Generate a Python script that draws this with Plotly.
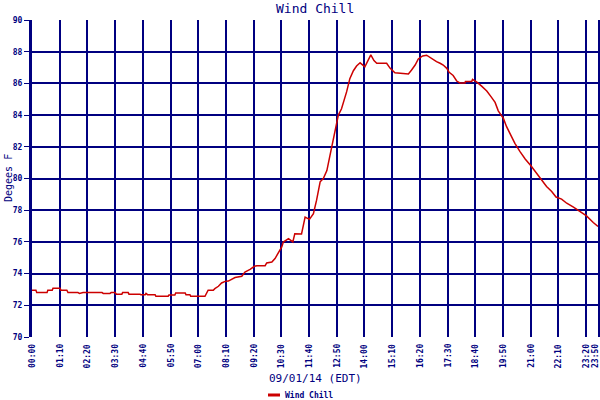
import plotly.graph_objects as go

# time of day in minutes after midnight, and wind chill (deg F)
minutes = [0, 10, 12, 38, 40, 51, 53, 71, 73, 88, 91, 116, 120, 129, 177, 180, 197, 200, 210, 213,
           227, 229, 243, 245, 273, 275, 286, 288, 292, 311, 313, 344, 346, 361, 363, 387, 389, 399,
           401, 437, 445, 458, 462, 471, 479, 488, 496, 505, 513, 530, 538, 551, 562, 568, 589, 593,
           606, 614, 622, 631, 635, 648, 659, 664, 681, 690, 701, 711, 719, 728, 736, 745, 753, 761,
           768, 774, 782, 788, 795, 803, 812, 820, 829, 841, 850, 856, 864, 871, 896, 905, 917, 930,
           951, 959, 968, 976, 987, 997, 1010, 1022, 1031, 1039, 1048, 1054, 1064, 1073, 1081, 1094,
           1095, 1111, 1113, 1124, 1136, 1149, 1161, 1170, 1178, 1191, 1199, 1208, 1220, 1233, 1246,
           1261, 1275, 1288, 1300, 1313, 1324, 1338, 1351, 1368, 1385, 1401, 1418, 1430]
wind_chill = [72.95, 72.95, 72.8, 72.8, 72.95, 72.95, 73.07, 73.07, 72.95, 72.95, 72.8, 72.8, 72.75,
              72.8, 72.8, 72.75, 72.75, 72.8, 72.8, 72.7, 72.7, 72.8, 72.8, 72.7, 72.7, 72.67, 72.67,
              72.75, 72.67, 72.67, 72.57, 72.57, 72.65, 72.65, 72.78, 72.78, 72.67, 72.67, 72.57,
              72.57, 72.95, 72.95, 73.05, 73.2, 73.41, 73.51, 73.53, 73.64, 73.75, 73.83, 74.1,
              74.27, 74.46, 74.5, 74.5, 74.67, 74.73, 74.95, 75.26, 75.68, 75.99, 76.2, 76.0, 76.52,
              76.5, 77.57, 77.42, 77.78, 78.63, 79.79, 80.0, 80.5, 81.48, 82.4, 83.15, 84.0, 84.4,
              84.85, 85.48, 86.3, 86.8, 87.1, 87.3, 87.05, 87.48, 87.8, 87.44, 87.27, 87.27, 86.95,
              86.67, 86.63, 86.6, 86.85, 87.16, 87.54, 87.73, 87.78, 87.54, 87.37, 87.27, 87.16,
              86.95, 86.7, 86.5, 86.15, 86.03, 86.03, 86.12, 86.12, 86.25, 86.08, 85.83, 85.52,
              85.12, 84.8, 84.27, 83.79, 83.27, 82.8, 82.22, 81.69, 81.23, 80.79, 80.33, 79.87,
              79.5, 79.18, 78.83, 78.7, 78.44, 78.19, 77.91, 77.64, 77.22, 76.97]

tick_minutes = [0, 70, 140, 210, 280, 350, 420, 490, 560, 630, 700, 770, 840, 910, 980, 1050,
                1120, 1190, 1260, 1330, 1400, 1430]
tick_labels = ["00:00", "01:10", "02:20", "03:30", "04:40", "05:50", "07:00", "08:10", "09:20",
               "10:30", "11:40", "12:50", "14:00", "15:10", "16:20", "17:30", "18:40", "19:50",
               "21:00", "22:10", "23:20", "23:50"]
y_ticks = [70, 72, 74, 76, 78, 80, 82, 84, 86, 88, 90]

NAVY = "#000080"
RED = "#cc0000"
MONO = "DejaVu Sans Mono"

fig = go.Figure()
fig.add_trace(go.Scatter(x=minutes, y=wind_chill, mode="lines", name="Wind Chill",
                         line=dict(color=RED, width=1.5), showlegend=False))

annotations = [
    dict(text="Wind Chill", xref="paper", yref="paper", x=0.5, y=1, yshift=12, yanchor="middle",
         showarrow=False, font=dict(family=MONO, size=13, color=NAVY)),
    dict(text="09/01/14 (EDT)", xref="paper", yref="paper", x=0.5, y=0, yshift=-41,
         yanchor="middle", showarrow=False, font=dict(family=MONO, size=11, color=NAVY)),
    dict(text="Degees F", xref="paper", yref="paper", x=0, xshift=-31, y=0.5, yanchor="middle",
         showarrow=False, textangle=-90, font=dict(family=MONO, size=10, color=NAVY)),
    dict(text="<b>Wind Chill</b>", xref="paper", yref="paper", x=(283 - 32) / 566, y=0,
         yshift=-58, xanchor="left", yanchor="middle", showarrow=False,
         font=dict(family=MONO, size=8, color=NAVY)),
]
for i, (m, lab) in enumerate(zip(tick_minutes, tick_labels)):
    annotations.append(dict(text="<b>" + lab + "</b>", xref="x", yref="paper", x=m, y=0,
                            yshift=-5, xshift=(-3 if i == len(tick_labels) - 1 else 0),
                            xanchor="center", yanchor="top", textangle=-90, showarrow=False,
                            font=dict(family=MONO, size=8, color=NAVY)))

fig.update_layout(
    width=600, height=400,
    margin=dict(l=32, r=2, t=20, b=63, autoexpand=False),
    paper_bgcolor="white", plot_bgcolor="white",
    showlegend=False,
    xaxis=dict(range=[0, 1430], tickmode="array", tickvals=tick_minutes, showticklabels=False,
               showgrid=True, gridcolor=NAVY, gridwidth=1.5, zeroline=False, automargin=False,
               showline=False, ticks=""),
    yaxis=dict(range=[70, 90], tickmode="array", tickvals=y_ticks, showgrid=True,
               gridcolor=NAVY, gridwidth=1.5, zeroline=False, showline=True, linecolor=NAVY,
               linewidth=3, mirror=True, ticks="outside", ticklen=5, tickcolor=NAVY,
               tickwidth=1, automargin=False,
               tickfont=dict(family=MONO, size=8, color=NAVY, weight="bold")),
    annotations=annotations,
    shapes=[dict(type="line", xref="paper", yref="paper", x0=(268 - 32) / 566,
                 x1=(280 - 32) / 566, y0=-58 / 317, y1=-58 / 317,
                 line=dict(color=RED, width=3))],
)

fig.write_html("out.html", config={"displayModeBar": False},
               post_script="document.body.style.margin='0';document.body.style.overflow='hidden';")
